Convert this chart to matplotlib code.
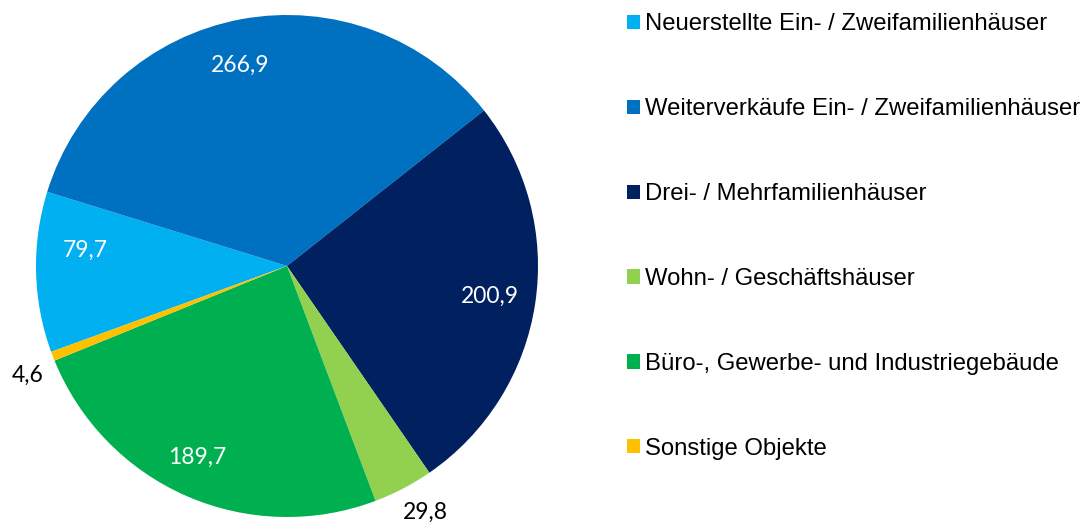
import numpy as np
import matplotlib
matplotlib.use("Agg")
import matplotlib.pyplot as plt

categories = ["Neuerstellte Ein- / Zweifamilienhäuser",
              "Weiterverkäufe Ein- / Zweifamilienhäuser",
              "Drei- / Mehrfamilienhäuser",
              "Wohn- / Geschäftshäuser",
              "Büro-, Gewerbe- und Industriegebäude",
              "Sonstige Objekte"]
values = [79.7, 266.9, 200.9, 29.8, 189.7, 4.6]
value_labels = ["79,7", "266,9", "200,9", "29,8", "189,7", "4,6"]
colors = ["#00B0F0", "#0070C0", "#002060", "#92D050", "#00B050", "#FFC000"]

# label placement (relative to wedge centre angle / radius)
label_inside = [True, True, True, False, True, False]
label_dist = [0.807, 0.822, 0.816, 1.126, 0.84, 1.123]
label_dangle = [-5.9, 2.6, 0.0, 1.7, -1.5, 1.8]

W, H = 1085, 525
fig = plt.figure(figsize=(W / 100, H / 100), dpi=100)
cx, cy, r = 287, 266, 251
ax = fig.add_axes([(cx - r) / W, (H - cy - r) / H, 2 * r / W, 2 * r / H])
wedges, _ = ax.pie(values, colors=colors, startangle=200, counterclock=False,
                   radius=1.0, wedgeprops=dict(linewidth=0))
ax.set_xlim(-1, 1)
ax.set_ylim(-1, 1)
ax.set_aspect("equal")
ax.axis("off")

for w, lab, ins, d, da in zip(wedges, value_labels, label_inside, label_dist, label_dangle):
    ang = np.deg2rad((w.theta1 + w.theta2) / 2 + da)
    ax.text(d * np.cos(ang), d * np.sin(ang), lab, ha="center", va="center",
            fontsize=16.5, family="Lato", color="white" if ins else "black",
            clip_on=False)

leg = fig.legend(wedges, categories, loc="upper left",
                 bbox_to_anchor=(627 / W, 1 - 13.5 / H), frameon=False,
                 prop=dict(family="Liberation Sans", size=17.2),
                 handlelength=0.55, handleheight=0.55, handletextpad=0.22,
                 labelspacing=2.63, borderpad=0, borderaxespad=0)

fig.savefig("out.png", dpi=100)
